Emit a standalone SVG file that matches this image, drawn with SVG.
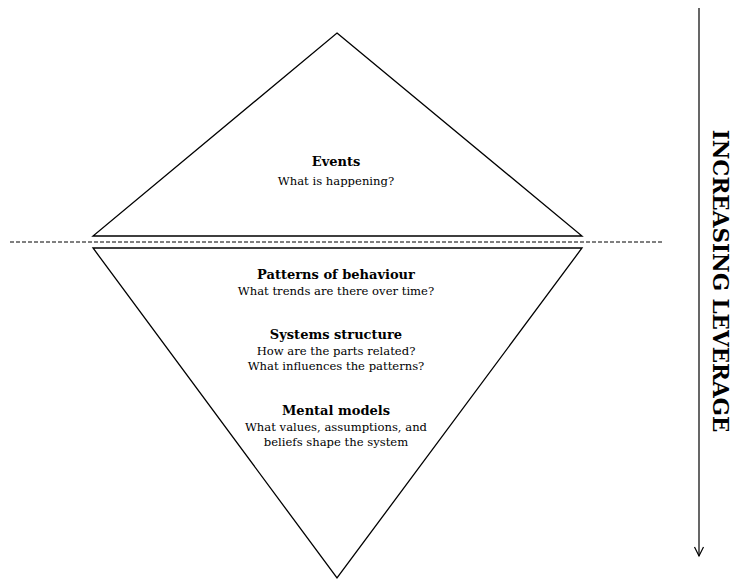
<svg xmlns="http://www.w3.org/2000/svg" width="734" height="580" viewBox="0 0 734 580">
  <style>
    .shape { fill: none; stroke: #000; stroke-width: 1.3; stroke-linejoin: miter; }
    .dash { fill: none; stroke: #000; stroke-width: 1; stroke-dasharray: 4 2; }
    .head { font-family: "DejaVu Serif", "Liberation Serif", serif; font-size: 13px; font-weight: bold; fill: #000; text-anchor: middle; }
    .sub { font-family: "DejaVu Serif", "Liberation Serif", serif; font-size: 11.6px; fill: #000; text-anchor: middle; }
    .axis { font-family: "DejaVu Serif", "Liberation Serif", serif; font-size: 21.5px; font-weight: bold; fill: #000; text-anchor: middle; }
  </style>
  <defs>
    <marker id="open-arrow" viewBox="0 0 12 12" refX="10" refY="6" markerWidth="12" markerHeight="12" markerUnits="userSpaceOnUse" orient="auto">
      <path d="M1 1.5 L10 6 L1 10.5" fill="none" stroke="#000" stroke-width="1.2"/>
    </marker>
  </defs>
  <rect width="734" height="580" fill="#fff"/>

  <!-- waterline -->
  <line class="dash" x1="10" y1="242" x2="664" y2="242"/>

  <!-- visible tip -->
  <g id="events">
    <polygon class="shape" points="337,33 582,236 93,236"/>
    <text class="head" x="336" y="166">Events</text>
    <text class="sub" x="336" y="185">What is happening?</text>
  </g>

  <!-- submerged part -->
  <g id="below-surface">
    <polygon class="shape" points="93,248 582,248 337,578"/>
  </g>
  <g id="patterns">
    <text class="head" x="336" y="279">Patterns of behaviour</text>
    <text class="sub" x="336" y="295">What trends are there over time?</text>
  </g>
  <g id="structure">
    <text class="head" x="336" y="339">Systems structure</text>
    <text class="sub" x="336" y="355">How are the parts related?</text>
    <text class="sub" x="336" y="370">What influences the patterns?</text>
  </g>
  <g id="mental-models">
    <text class="head" x="336" y="415">Mental models</text>
    <text class="sub" x="336" y="431">What values, assumptions, and</text>
    <text class="sub" x="336" y="446">beliefs shape the system</text>
  </g>

  <!-- leverage axis -->
  <g id="connectors">
    <line x1="699" y1="8" x2="699" y2="556" stroke="#000" stroke-width="1.2" marker-end="url(#open-arrow)"/>
  </g>
  <g id="leverage">
    <text class="axis" transform="translate(713,281) rotate(90)">INCREASING LEVERAGE</text>
  </g>
</svg>
